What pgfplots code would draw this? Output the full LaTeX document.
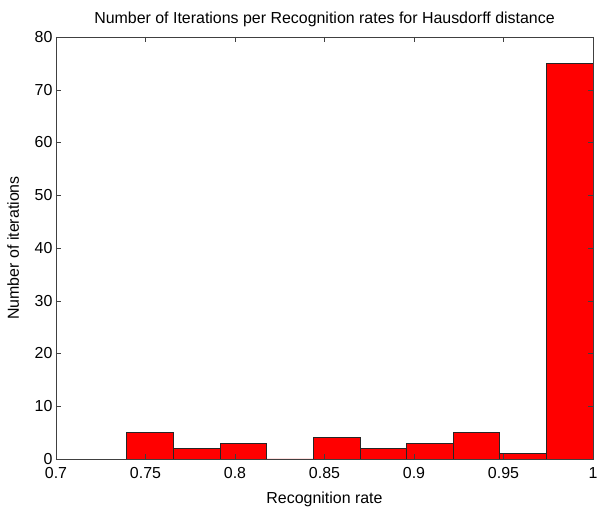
\documentclass[border=0pt]{standalone}
\usepackage{pgfplots}
\pgfplotsset{compat=1.18}
\usepackage{fontspec}
\setmainfont{Liberation Sans}

\begin{document}
\begin{tikzpicture}
\begin{axis}[
  name=hist,
  scale only axis,
  width=537bp, height=422bp,
  xmin=0.7, xmax=1, ymin=0, ymax=80,
  xtick={0.7,0.75,0.8,0.85,0.9,0.95,1},
  ytick={0,10,20,30,40,50,60,70,80},
  tick align=inside,
  tick pos=both,
  major tick length=5bp,
  axis on top,
  axis line style={black!75},
  tick style={black!75},
  /pgf/number format/assume math mode=true,
  /pgf/number format/fixed,
  /pgf/number format/precision=2,
  font=\fontsize{16}{18}\selectfont,
  ticklabel style={font=\fontsize{16}{18}\selectfont},
  xticklabel style={yshift=-5bp},
  title={Number of Iterations per Recognition rates for Hausdorff distance},
  title style={yshift=1bp},
  xlabel={Recognition rate},
  ylabel={Number of iterations},
  xlabel style={yshift=-6bp},
  ylabel style={yshift=9bp},
]
% histogram of recognition rates, 10 equal bins from 0.7396 to 1
\addplot[ybar interval, fill=red, draw=black!85, line width=0.8bp] coordinates {
  (0.73958,5) (0.76563,2) (0.79167,3) (0.81771,0) (0.84375,4)
  (0.86979,2) (0.89583,3) (0.92188,5) (0.94792,1) (0.97396,75)
  (1.00000,75)
};
\end{axis}
\pgfresetboundingbox
\path ([xshift=-56bp,yshift=-50bp]hist.south west) rectangle ([xshift=4bp,yshift=37bp]hist.north east);
\end{tikzpicture}
\end{document}
